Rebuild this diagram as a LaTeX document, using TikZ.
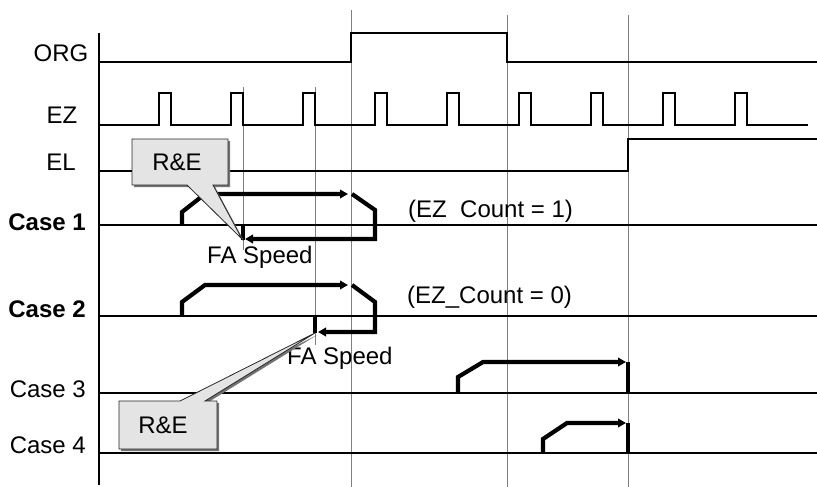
\documentclass[tikz,border=0pt]{standalone}
\usepackage{fontspec}
\setmainfont{Liberation Sans}
\usepackage{tikz}
\usetikzlibrary{arrows.meta,shadows}
\definecolor{gridc}{HTML}{808080}
\definecolor{callc}{HTML}{E4E4E4}
\tikzset{
  sig/.style={line width=1.8pt,black},
  guide/.style={line width=1pt,gridc},
  prof/.style={line width=3.4pt,black},
  ar/.style={line width=4.2pt,black,-{Triangle[length=8pt,width=8.5pt]}},
  lbl/.style={font=\fontsize{24}{28}\selectfont,inner sep=0pt,anchor=base},
  callout/.style={draw=black!85,line width=0.8pt,fill=callc,drop shadow={shadow xshift=2pt,shadow yshift=-2pt,fill=black!55,opacity=1}}
}

\begin{document}
\begin{tikzpicture}[x=1pt,y=-1pt]
\useasboundingbox (0,0) rectangle (817,487);
% guide lines
\draw[guide] (243,87) -- (243,250);
\draw[guide] (315,87) -- (315,345);
\foreach \gx/\gy in {351/10,507/15,628/15} \draw[guide] (\gx,\gy) -- (\gx,487);
\draw[sig] (99,33) -- (99,485);
% signals
\draw[sig] (99,62) -- (351,62) -- (351,33) -- (507,33) -- (507,62) -- (817,62);
\draw[sig] (99,125) \foreach \i in {0,...,8} { -- ({159+72*\i},125) -- ({159+72*\i},93) -- ({171+72*\i},93) -- ({171+72*\i},125) } -- (808,125);
\draw[sig] (99,171) -- (628,171) -- (628,139) -- (817,139);
\foreach \cy in {225,316,393,453} \draw[sig] (99,\cy) -- (817,\cy);
\node[lbl] (org) at (61,62) {ORG};
\node[lbl] (ez) at (62,123) {EZ};
\node[lbl] (el) at (61,170) {EL};
\node[lbl,anchor=base east] (case1) at (86,230) {\textbf{Case 1}};
\node[lbl,anchor=base east] (case2) at (86,317) {\textbf{Case 2}};
\node[lbl,anchor=base east] (case3) at (86,397) {Case 3};
\node[lbl,anchor=base east] (case4) at (86,453) {Case 4};
% case 1
\draw[ar] (182,225) -- (182,212) -- (205,194) -- (348,194);
\draw[ar] (352,194) -- (375,210) -- (375,239) -- (245,239);
\draw[prof] (243,225) -- (243,240);
\node[lbl,anchor=base west] (fa1) at (207,263) {FA Speed};
\node[lbl,anchor=base west] (cnt1) at (408,217) {(EZ\ \ Count = 1)};
% case 2
\draw[ar] (182,316) -- (182,302) -- (205,285) -- (348,285);
\draw[ar] (352,285) -- (375,302) -- (375,332) -- (318,332);
\draw[prof] (315,316) -- (315,333);
\node[lbl,anchor=base west] (fa2) at (287,364) {FA Speed};
\node[lbl,anchor=base west] (cnt2) at (407,303) {(EZ\_Count = 0)};
% case 3 and 4
\draw[ar] (458,393) -- (458,377) -- (483,362) -- (626,362);
\draw[prof] (628,362) -- (628,393);
\draw[ar] (543,453) -- (543,439) -- (567,423) -- (626,423);
\draw[prof] (628,423) -- (628,453);
% callouts
\draw[callout] (132,139) -- (228,139) -- (228,185) -- (213,185) -- (242,239) -- (187,185) -- (132,185) -- cycle;
\node[lbl] (re1) at (177,170) {R\&E};
\draw[callout] (119,401) -- (180,401) -- (315,333) -- (205,401) -- (217,401) -- (217,449) -- (119,449) -- cycle;
\node[lbl] (re2) at (163,433) {R\&E};
\end{tikzpicture}
\end{document}
